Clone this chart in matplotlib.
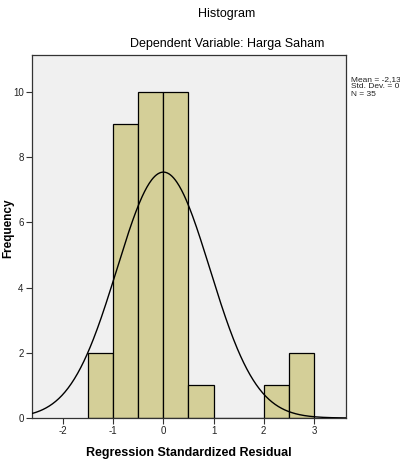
import numpy as np
import matplotlib
matplotlib.use("Agg")
import matplotlib.pyplot as plt

plt.rcParams['font.family'] = ['Liberation Sans', 'DejaVu Sans']
plt.rcParams['axes.unicode_minus'] = False

# histogram bins of regression standardized residuals
bin_edges = [-1.5, -1.0, -0.5, 0.0, 0.5, 1.0, 1.5, 2.0, 2.5, 3.0]
counts = [2, 9, 10, 10, 1, 0, 0, 1, 2]

n_obs = 35
res_mean = 0.0
res_sd = 0.926
stats_lines = ["Mean = -2,13", "Std. Dev. = 0", "N = 35"]

x_ticks = [-2, -1, 0, 1, 2, 3]
y_ticks = [0, 2, 4, 6, 8, 10]

fig = plt.figure(figsize=(4.0, 4.68), dpi=100)
ax = fig.add_axes([0.08, 0.1068, 0.785, 0.7757])
ax.set_facecolor('#f0f0f0')

widths = np.diff(bin_edges)
ax.bar(bin_edges[:-1], counts, width=widths, align='edge',
       color='#d4cf98', edgecolor='black', linewidth=0.9, zorder=2)

# fitted normal curve
xs = np.linspace(-2.62, 3.64, 400)
binw = widths[0]
ys = n_obs * binw * np.exp(-0.5 * ((xs - res_mean) / res_sd) ** 2) / (res_sd * np.sqrt(2 * np.pi))
ax.plot(xs, ys, color='black', linewidth=1.0, zorder=3)

ax.set_xlim(-2.62, 3.64)
ax.set_ylim(0, 11.13)
ax.set_xticks(x_ticks)
ax.set_yticks(y_ticks)
ax.tick_params(axis='both', labelsize=7, length=4, width=0.8, color='#333333',
               labelcolor='#222222', pad=2)
for s in ax.spines.values():
    s.set_color('#333333')
    s.set_linewidth(0.9)

ax.set_xlabel("Regression Standardized Residual", fontsize=9, fontweight='bold', labelpad=8)
fig.text(8 / 400, 1 - 228 / 468, "Frequency", rotation=90, ha='center', va='center',
         fontsize=8.5, fontweight='bold')

fig.text(227 / 400, 1 - 14 / 468, "Histogram", ha='center', va='center', fontsize=9)
fig.text(227 / 400, 1 - 44 / 468, "Dependent Variable: Harga Saham", ha='center',
         va='center', fontsize=9)

for i, line in enumerate(stats_lines):
    fig.text(351 / 400, 1 - (80 + i * 7) / 468, line, ha='left', va='center',
             fontsize=6, color='#222222')

fig.savefig("out.png", dpi=100)
